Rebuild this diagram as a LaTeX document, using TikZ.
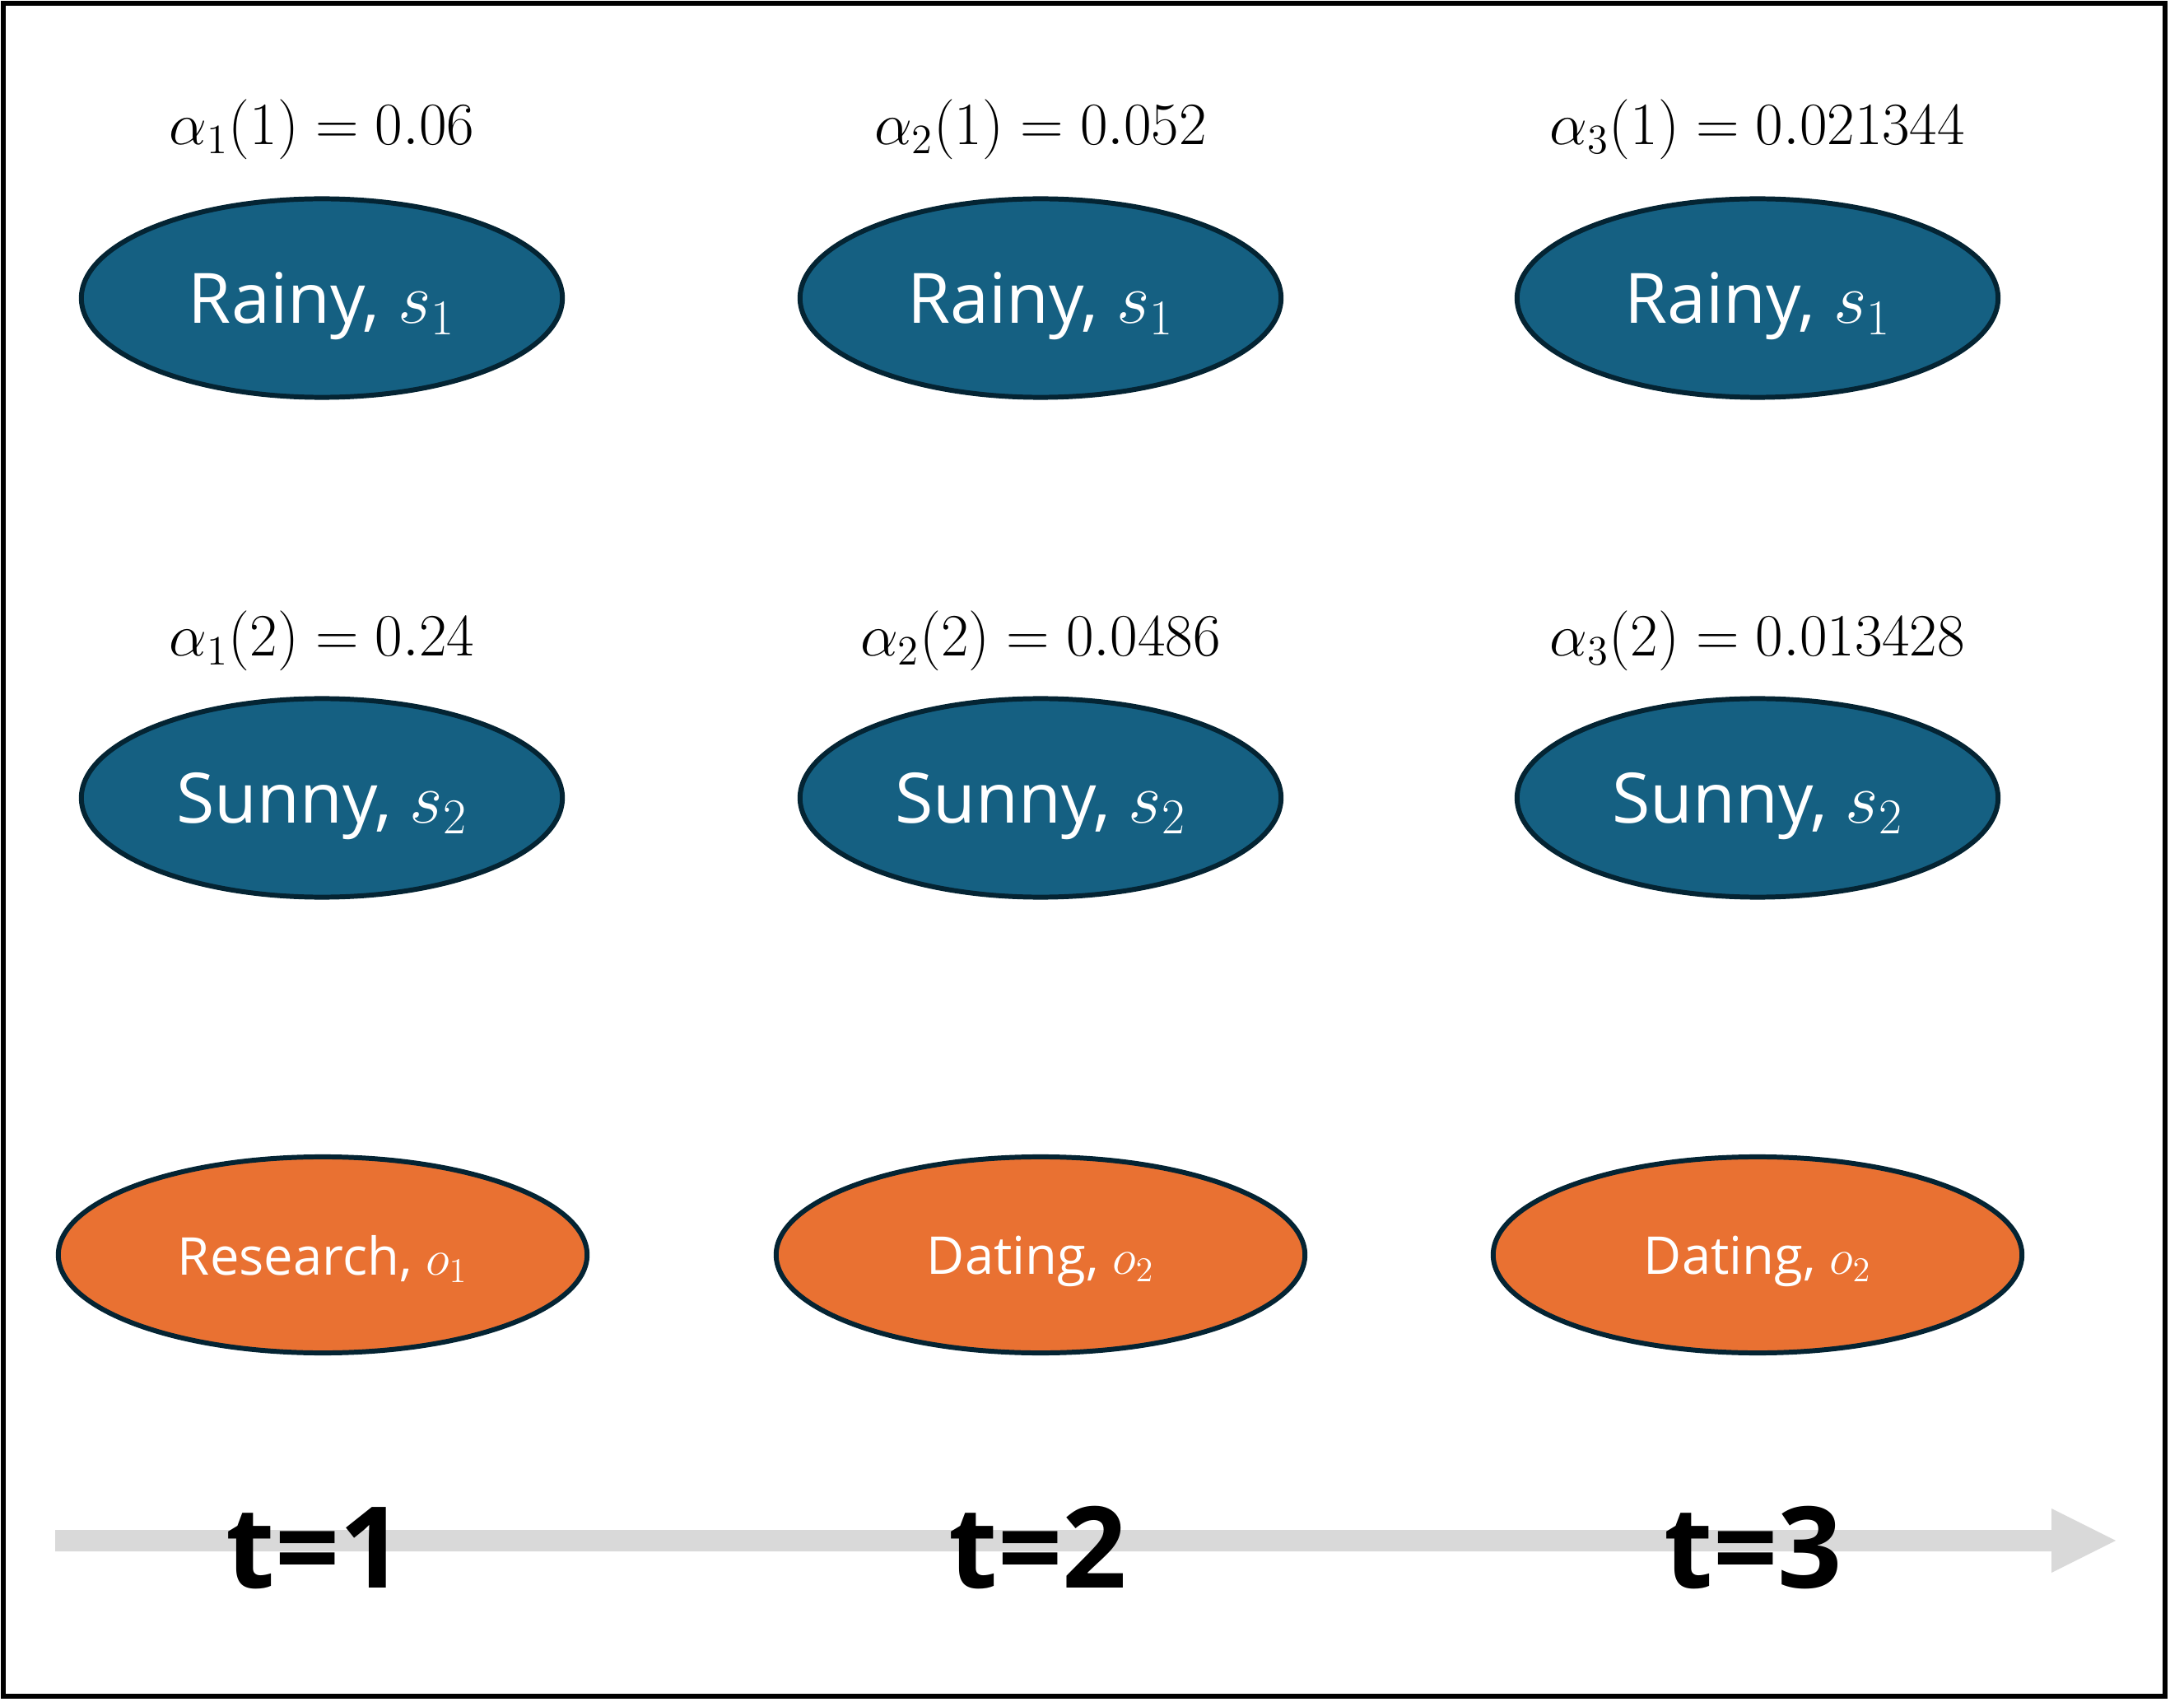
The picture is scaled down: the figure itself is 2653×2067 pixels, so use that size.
\documentclass[tikz,border=0pt]{standalone}
\usepackage{fontspec}
\setmainfont{Open Sans}
\usetikzlibrary{shapes.geometric,calc}
\definecolor{stblue}{HTML}{156082}
\definecolor{stedge}{HTML}{042433}
\definecolor{obsor}{HTML}{E97132}
\definecolor{arrgray}{HTML}{D9D9D9}
\begin{document}
\begin{tikzpicture}[x=0.01cm,y=-0.01cm,
  stnode/.style={ellipse, draw=stedge, line width=1.7pt, fill=stblue, text=white,
    minimum width=5.84cm, minimum height=2.41cm, inner sep=0pt, text depth=0pt,
    font=\fontsize{24}{29}\selectfont},
  obsnode/.style={ellipse, draw=stedge, line width=1.7pt, fill=obsor, text=white,
    minimum width=6.42cm, minimum height=2.38cm, inner sep=0pt, text depth=0pt,
    font=\fontsize{18}{22}\selectfont},
  alphalbl/.style={anchor=base, inner sep=0pt, font=\fontsize{21}{25}\selectfont},
  tlbl/.style={inner sep=0pt, font=\bfseries\fontsize{39}{46}\selectfont}]
\useasboundingbox (0,0) rectangle (2653,2067);
\draw[line width=1.7pt] (4,4) rectangle (2630,2060);
% arrow
\coordinate (arrS) at (67,1871);
\coordinate (arrE) at (2570,1871);
\fill[arrgray] ($(arrS)+(0,-13)$) -- ($(arrE)+(-78,-13)$) -- ($(arrE)+(-78,-39)$)
  -- (arrE) -- ($(arrE)+(-78,39)$) -- ($(arrE)+(-78,13)$) -- ($(arrS)+(0,13)$) -- cycle;
% states
\node[stnode] (r1) at (391,362) {Rainy, $s_1$};
\node[stnode] (r2) at (1264,362) {Rainy, $s_1$};
\node[stnode] (r3) at (2135,362) {Rainy, $s_1$};
\node[stnode] (u1) at (391,969) {Sunny, $s_2$};
\node[stnode] (u2) at (1264,969) {Sunny, $s_2$};
\node[stnode] (u3) at (2135,969) {Sunny, $s_2$};
\node[obsnode] (o1) at (392,1524) {Research, $o_1$};
\node[obsnode] (o2) at (1264,1524) {Dating, $o_2$};
\node[obsnode] (o3) at (2135,1524) {Dating, $o_2$};
% alpha labels
\node[alphalbl] (a11) at (391,176) {$\alpha_1(1) = 0.06$};
\node[alphalbl] (a21) at (1264,176) {$\alpha_2(1) = 0.052$};
\node[alphalbl] (a31) at (2135,176) {$\alpha_3(1) = 0.021344$};
\node[alphalbl] (a12) at (391,797) {$\alpha_1(2) = 0.24$};
\node[alphalbl] (a22) at (1264,797) {$\alpha_2(2) = 0.0486$};
\node[alphalbl] (a32) at (2135,797) {$\alpha_3(2) = 0.013428$};
% time labels
\node[tlbl] (t1) at (383,1880) {t=1};
\node[tlbl] (t2) at (1261,1880) {t=2};
\node[tlbl] (t3) at (2130,1880) {t=3};
\end{tikzpicture}
\end{document}
